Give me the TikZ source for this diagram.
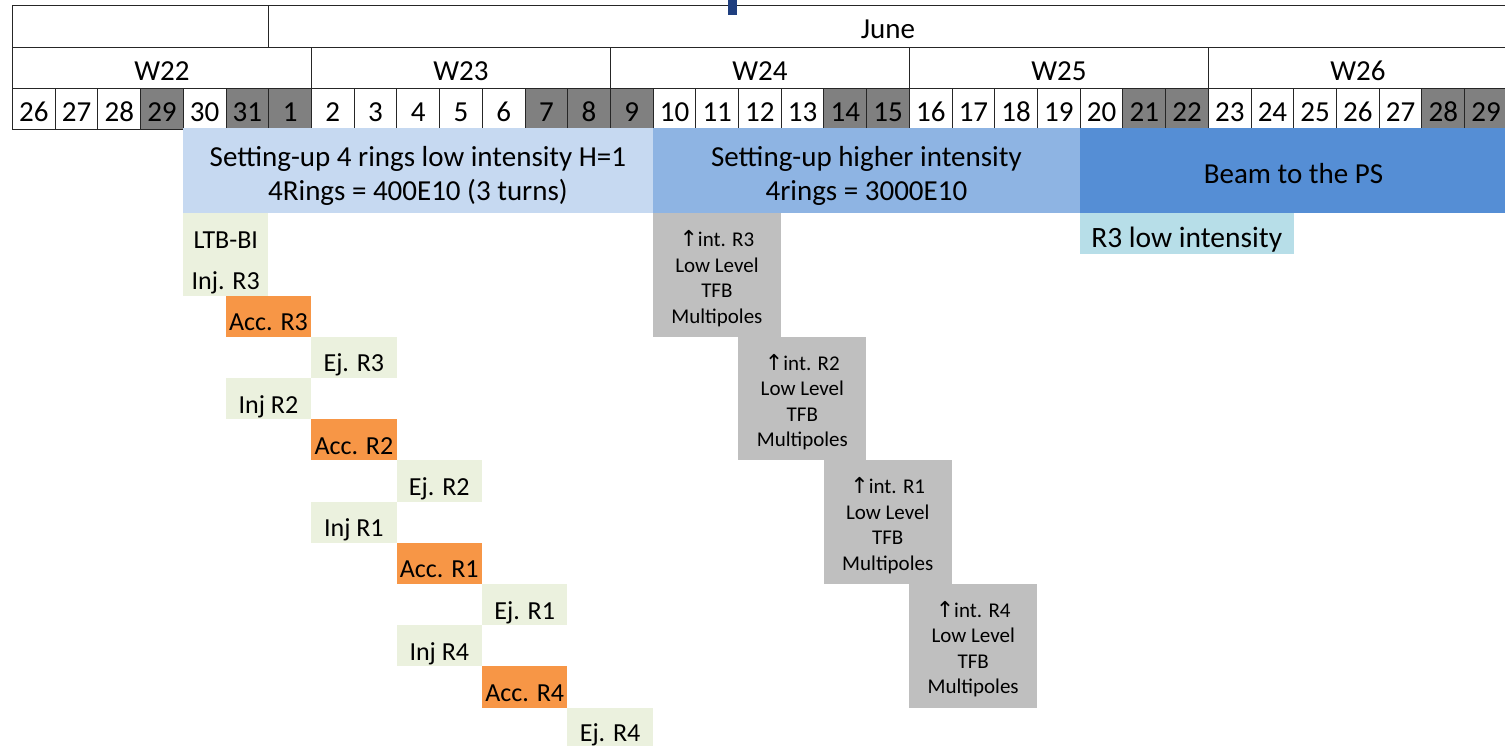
\documentclass[tikz,border=0pt]{standalone}
\usepackage{fontspec}
\setmainfont{Carlito}
\newfontfamily\symfont{DejaVu Sans}
\usetikzlibrary{positioning}

\definecolor{wkend}{HTML}{808080}
\definecolor{lowblue}{HTML}{C6D9F1}
\definecolor{highblue}{HTML}{8EB4E3}
\definecolor{beamblue}{HTML}{558ED5}
\definecolor{stepgreen}{HTML}{EBF1DE}
\definecolor{accorange}{HTML}{F79646}
\definecolor{intgrey}{HTML}{BFBFBF}
\definecolor{r3cyan}{HTML}{B7DEE8}
\definecolor{cursorblue}{HTML}{1F3F7F}

\def\colw{42.71}
\def\rowh{41.2}
\newcommand{\upint}[1]{\rule{0pt}{23pt}{\symfont\fontsize{22}{25.5}\selectfont ↑}int. #1\\Low Level\\TFB\\Multipoles}

\begin{document}
\begin{tikzpicture}[x=1pt, y=-1pt,
    cell/.style={rectangle, draw=black!85, line width=1pt, anchor=north west, inner sep=0pt, text height=24.6pt, text depth=0pt, font=\fontsize{29}{34}\selectfont},
    day/.style={cell, minimum width=\colw pt, minimum height=40.5pt},
    week/.style={cell, minimum width=7*\colw pt, minimum height=41pt},
    phase/.style={rectangle, anchor=north west, inner sep=0pt, minimum height=85pt, align=center, font=\fontsize{29}{34}\selectfont},
    task/.style={rectangle, anchor=north west, inner sep=0pt, minimum width=2*\colw pt, minimum height=\rowh pt, text height=29pt, text depth=0pt, font=\fontsize{26}{30}\selectfont},
    intbox/.style={rectangle, anchor=north west, inner sep=0pt, fill=intgrey, minimum width=3*\colw pt, minimum height=3*\rowh pt, align=center, font=\fontsize{21}{25.5}\selectfont}
]
\useasboundingbox (0,0) rectangle (1505,745);

% Header
\node[cell, minimum width=256pt, minimum height=42pt] (blank) at (12,5) {};
\node[cell, minimum width=1239pt, minimum height=42pt] (june) at (268,5) {June};
\node[week] (w22) at ({12+0*\colw},47) {W22};
\node[week] (w23) at ({12+7*\colw},47) {W23};
\node[week] (w24) at ({12+14*\colw},47) {W24};
\node[week] (w25) at ({12+21*\colw},47) {W25};
\node[week] (w26) at ({12+28*\colw},47) {W26};
\foreach \lbl/\col [count=\i from 0] in {26/white,27/white,28/white,29/wkend,30/white,31/wkend,1/wkend,2/white,3/white,4/white,5/white,6/white,7/wkend,8/wkend,9/wkend,10/white,11/white,12/white,13/white,14/wkend,15/wkend,16/white,17/white,18/white,19/white,20/white,21/wkend,22/wkend,23/white,24/white,25/white,26/white,27/white,28/wkend,29/wkend}
    \node[day, fill=\col] (day\i) at ({12+\i*\colw},88) {\lbl};
\node[rectangle, fill=cursorblue, minimum width=9pt, minimum height=15pt, inner sep=0pt, anchor=north west] (cursor) at (728,0) {};

% Phases
\node[phase, fill=lowblue, minimum width=11*\colw pt] (lowint) at ({12+4*\colw},128) {\rule{0pt}{30pt}Setting-up 4 rings low intensity H=1\\4Rings = 400E10 (3 turns)};
\node[phase, fill=highblue, minimum width=10*\colw pt] (highint) at ({12+15*\colw},128) {\rule{0pt}{30pt}Setting-up higher intensity\\4rings = 3000E10};
\node[phase, fill=beamblue, minimum width=10*\colw pt] (beam) at ({12+25*\colw},128) {\rule{0pt}{25pt}Beam to the PS};

% Low intensity steps
\node[task, fill=stepgreen] (ltb) at ({12+4*\colw},{213+0*\rowh}) {LTB-BI};
\node[task, fill=stepgreen] (injr3) at ({12+4*\colw},{213+1*\rowh}) {Inj. R3};
\node[task, fill=accorange] (accr3) at ({12+5*\colw},{213+2*\rowh}) {Acc. R3};
\node[task, fill=stepgreen] (ejr3) at ({12+7*\colw},{213+3*\rowh}) {Ej. R3};
\node[task, fill=stepgreen] (injr2) at ({12+5*\colw},{213+4*\rowh}) {Inj R2};
\node[task, fill=accorange] (accr2) at ({12+7*\colw},{213+5*\rowh}) {Acc. R2};
\node[task, fill=stepgreen] (ejr2) at ({12+9*\colw},{213+6*\rowh}) {Ej. R2};
\node[task, fill=stepgreen] (injr1) at ({12+7*\colw},{213+7*\rowh}) {Inj R1};
\node[task, fill=accorange] (accr1) at ({12+9*\colw},{213+8*\rowh}) {Acc. R1};
\node[task, fill=stepgreen] (ejr1) at ({12+11*\colw},{213+9*\rowh}) {Ej. R1};
\node[task, fill=stepgreen] (injr4) at ({12+9*\colw},{213+10*\rowh}) {Inj R4};
\node[task, fill=accorange] (accr4) at ({12+11*\colw},{213+11*\rowh}) {Acc. R4};
\node[task, fill=stepgreen, text height=27pt] (ejr4) at ({12+13*\colw},{213+12*\rowh}) {Ej. R4};

% Higher intensity steps
\node[intbox] (intr3) at ({12+15*\colw},{213+0*\rowh}) {\upint{R3}};
\node[intbox] (intr2) at ({12+17*\colw},{213+3*\rowh}) {\upint{R2}};
\node[intbox] (intr1) at ({12+19*\colw},{213+6*\rowh}) {\upint{R1}};
\node[intbox] (intr4) at ({12+21*\colw},{213+9*\rowh}) {\upint{R4}};

% Beam
\node[task, fill=r3cyan, minimum width=5*\colw pt, text height=28pt, font=\fontsize{29.5}{34}\selectfont] (r3low) at ({12+25*\colw},{213+0*\rowh}) {R3 low intensity};

\end{tikzpicture}
\end{document}
